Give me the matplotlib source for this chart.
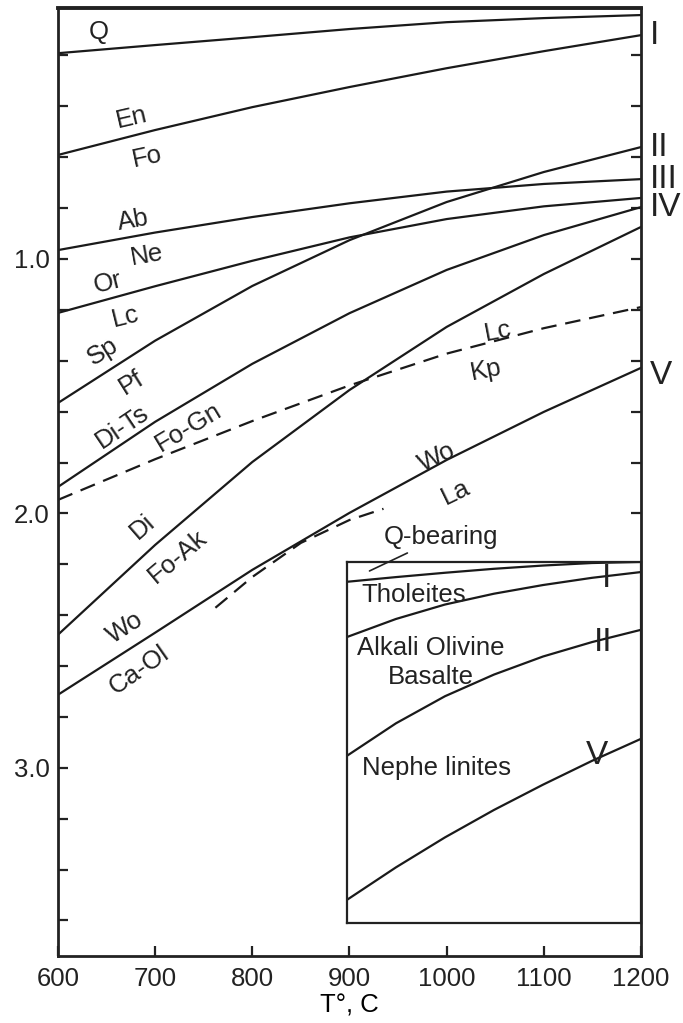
import numpy as np
import matplotlib.pyplot as plt

plt.rcParams['font.family'] = ['Liberation Sans', 'DejaVu Sans']
plt.rcParams['font.size'] = 18.5

# temperature, deg C
T = [600, 700, 800, 900, 1000, 1100, 1200]

# reaction lines (pressure vs T)
q_line = [0.191, 0.159, 0.128, 0.096, 0.069, 0.053, 0.041]
line_I = [0.591, 0.493, 0.403, 0.324, 0.250, 0.183, 0.120]
line_III = [0.965, 0.896, 0.835, 0.781, 0.735, 0.705, 0.686]
or_lc = [1.212, 1.107, 1.007, 0.915, 0.843, 0.793, 0.760]
line_II = [1.566, 1.321, 1.106, 0.926, 0.776, 0.658, 0.560]
line_IV = [1.896, 1.640, 1.412, 1.213, 1.043, 0.906, 0.796]
lc_kp = [1.947, 1.787, 1.637, 1.497, 1.372, 1.272, 1.189]
di_foak = [2.477, 2.124, 1.798, 1.515, 1.267, 1.059, 0.874]
line_V = [2.713, 2.469, 2.222, 1.998, 1.790, 1.601, 1.428]

# short dashed branch near Wo/La
T_short = [762, 800, 850, 900, 935]
short_dash = [2.371, 2.250, 2.116, 2.026, 1.982]

# field labels: text, T, P, angle
labels = [
    ("Q", 642, 0.108, 0), ("En", 676, 0.446, 13), ("Fo", 692, 0.599, 12),
    ("Ab", 677, 0.847, 10), ("Ne", 692, 0.984, 10), ("Or", 651, 1.094, 14),
    ("Lc", 669, 1.228, 14), ("Sp", 646, 1.365, 32), ("Pf", 676, 1.487, 32),
    ("Di-Ts", 666, 1.660, 34), ("Fo-Gn", 734, 1.660, 31), ("Di", 687, 2.053, 41),
    ("Fo-Ak", 723, 2.171, 40), ("Wo", 669, 2.450, 33), ("Ca-Ol", 684, 2.615, 35),
    ("Lc", 1053, 1.287, 11), ("Kp", 1041, 1.436, 11),
    ("Wo", 990, 1.778, 26), ("La", 1009, 1.919, 26),
]

# inset: rock series boundaries (fraction of box height)
T_in = [900, 950, 1000, 1050, 1100, 1150, 1200]
in_q = [0.055, 0.042, 0.030, 0.019, 0.010, 0.003, 0.0]
in_I = [0.208, 0.158, 0.118, 0.088, 0.064, 0.044, 0.028]
in_II = [0.537, 0.447, 0.372, 0.312, 0.262, 0.222, 0.188]
in_V = [0.936, 0.846, 0.763, 0.687, 0.617, 0.551, 0.490]

fig = plt.figure(figsize=(6.83, 10.23), dpi=100)
ax = fig.add_axes([0.0849, 0.0655, 0.8536, 0.9265])

lw = 1.6
ink = '#1a1a1a'
for y in [q_line, line_I, line_III, or_lc, line_II, line_IV, di_foak, line_V]:
    ax.plot(T, y, color=ink, lw=lw)
ax.plot(T, lc_kp, color=ink, lw=lw, ls=(0, (7, 4)))
ax.plot(T_short, short_dash, color=ink, lw=lw, ls=(0, (7, 4)))

for txt, x, y, rot in labels:
    ax.text(x, y, txt, ha='center', va='center', rotation=rot,
            rotation_mode='anchor', color='#222222')

# roman numerals at the right ends of the lines
for txt, y in [("I", line_I[-1]), ("II", line_II[-1]), ("III", line_III[-1]),
               ("IV", line_IV[-1]), ("V", line_V[-1] + 0.03)]:
    ax.text(1.016, y, txt, transform=ax.get_yaxis_transform(),
            ha='left', va='center', fontsize=24, color='#222222')

ax.set_xlim(600, 1200)
ax.set_ylim(3.74, 0.014)
ax.set_xticks(range(600, 1201, 100))
ax.set_yticks([1.0, 2.0, 3.0])
ax.set_yticklabels(['1.0', '2.0', '3.0'])
ax.set_yticks(np.arange(0.2, 3.7, 0.2), minor=True)
ax.tick_params(which='both', direction='in', length=7, width=1.6,
               right=True, top=False, colors='#222222')
ax.tick_params(axis='x', pad=8)
ax.tick_params(axis='y', pad=6)
ax.set_xlabel('T°, C', labelpad=2)
for s in ax.spines.values():
    s.set_linewidth(2.0)
    s.set_color('#222222')
ax.spines['top'].set_linewidth(2.8)

# inset with rock series
ax_in = fig.add_axes([0.508, 0.0978, 0.4305, 0.3529])
ax_in.set_xlim(900, 1200)
ax_in.set_ylim(1, 0)
ax_in.set_xticks([])
ax_in.set_yticks([])
for s in ax_in.spines.values():
    s.set_linewidth(1.6)
    s.set_color('#222222')
for y in [in_q, in_I, in_II, in_V]:
    ax_in.plot(T_in, y, color=ink, lw=lw)

ax_in.text(915, 0.091, 'Tholeites', ha='left', va='center', color='#222222')
ax_in.text(910, 0.238, 'Alkali Olivine', ha='left', va='center', color='#222222')
ax_in.text(942, 0.319, 'Basalte', ha='left', va='center', color='#222222')
ax_in.text(915, 0.571, 'Nephe linites', ha='left', va='center', color='#222222')
ax_in.annotate('Q-bearing', xy=(923, 0.025), xytext=(996, -0.069),
               ha='center', va='center', color='#222222', annotation_clip=False,
               arrowprops=dict(arrowstyle='-', color='#222222', lw=1.2,
                               shrinkA=2, shrinkB=0))
ax_in.text(1165, 0.047, 'I', ha='center', va='center', fontsize=24, color='#222222')
ax_in.text(1161, 0.224, 'II', ha='center', va='center', fontsize=24, color='#222222')
ax_in.text(1155, 0.535, 'V', ha='center', va='center', fontsize=24, color='#222222')

fig.savefig('out.png', dpi=100)
